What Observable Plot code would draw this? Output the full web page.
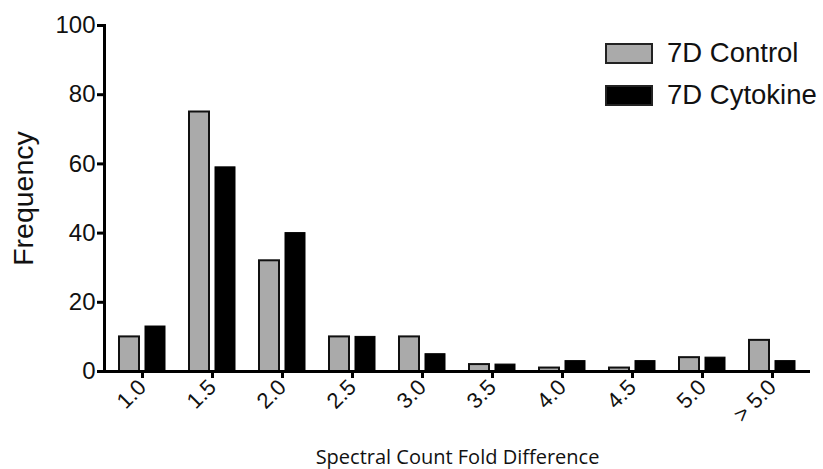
<!DOCTYPE html>
<html><head><meta charset="utf-8">
<script src="https://cdn.jsdelivr.net/npm/d3@7"></script>
<script src="https://cdn.jsdelivr.net/npm/@observablehq/plot@0.6"></script>
<style>
body{margin:0;background:#fff;}
#wrap{position:relative;width:823px;height:469px;font-family:"Liberation Sans",Arial,sans-serif;}
.leg{position:absolute;left:605px;display:flex;align-items:center;font-size:27.5px;color:#111;height:22px;}
.sw{width:48px;height:21px;margin-right:14px;box-sizing:border-box;border:2.5px solid #222;}
#wrap svg text{font-size:22px;}
#wrap svg g[aria-label="y-axis tick label"] text{font-size:24px;}
#wrap svg g[aria-label="x-axis label"] text{font-family:"Open Sans",sans-serif;font-size:20px;}
#wrap svg g[aria-label="y-axis label"] text{font-size:28.5px;}
g[aria-label="y-axis tick"] path, g[aria-label="x-axis tick"] path{stroke-width:3px;stroke:#000;}
</style></head><body>
<div id="wrap"></div>
<script>
const categories = ["1.0","1.5","2.0","2.5","3.0","3.5","4.0","4.5","5.0","> 5.0"];
const control = [10,75,32,10,10,2,1,1,4,9];
const cytokine = [13,59,40,10,5,2,3,3,4,3];
const series = ["7D Control","7D Cytokine"];
const colors = ["#aaaaaa","#000000"];
const yTicks = [0,20,40,60,80,100];

const dControl = categories.map((c,i)=>({cat:c,v:control[i]}));
const dCyto = categories.map((c,i)=>({cat:c,v:cytokine[i]}));

const plot = Plot.plot({
  width:823, height:469,
  marginLeft:104, marginRight:13, marginTop:25, marginBottom:98,
  style:{fontFamily:"'Liberation Sans',Arial,sans-serif", color:"#111", background:"#fff"},
  x:{domain:categories, padding:0},
  y:{domain:[0,100]},
  marks:[
    Plot.barY(dControl,{x:"cat",y:"v",fill:colors[0],stroke:"#111",strokeWidth:2,insetLeft:12,insetRight:38}),
    Plot.barY(dCyto,{x:"cat",y:"v",fill:colors[1],stroke:"#000",strokeWidth:1,insetLeft:38,insetRight:12}),
    Plot.axisY({ticks:yTicks, tickSize:7, tickPadding:2, fontSize:24, tickFormat:d=>String(d),
      label:"Frequency", labelAnchor:"center", labelArrow:"none", labelOffset:92}),
    Plot.axisX({tickSize:7, tickPadding:5, tickRotate:-45, fontSize:22,
      label:"Spectral Count Fold Difference", labelAnchor:"center", labelOffset:92}),
    Plot.frame({anchor:"left", strokeWidth:3, stroke:"#000"}),
    Plot.ruleY([0],{strokeWidth:3, stroke:"#000"})
  ]
});
const wrap = document.getElementById("wrap");
wrap.appendChild(plot);
series.forEach((s,i)=>{
  const d=document.createElement("div");
  d.className="leg"; d.style.top=(42+i*42)+"px";
  d.innerHTML=`<div class="sw" style="background:${colors[i]}"></div><span>${s}</span>`;
  wrap.appendChild(d);
});
</script>
</body></html>
